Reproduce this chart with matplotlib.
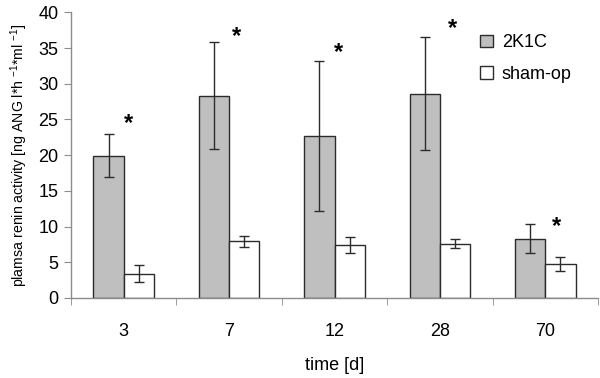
import numpy as np
import matplotlib
matplotlib.use("Agg")
import matplotlib.pyplot as plt

plt.rcParams['font.family'] = ['Liberation Sans', 'DejaVu Sans']
plt.rcParams['mathtext.fontset'] = 'custom'
plt.rcParams['mathtext.rm'] = 'Liberation Sans'
plt.rcParams['mathtext.it'] = 'Liberation Sans'

# data
days = ["3", "7", "12", "28", "70"]
k1c_mean = [19.9, 28.3, 22.7, 28.6, 8.3]
k1c_err = [3.0, 7.5, 10.5, 7.9, 2.0]
sham_mean = [3.4, 7.9, 7.4, 7.6, 4.7]
sham_err = [1.2, 0.75, 1.1, 0.65, 1.0]
star_y = [24.5, 36.7, 34.4, 37.7, 10.0]
star_dx = [0.05, 0.07, 0.04, 0.12, 0.10]

fig = plt.figure(figsize=(6, 3.78), dpi=100)
ax = fig.add_axes([0.118, 0.212, 0.879, 0.755])

x = np.arange(len(days)) + 0.5
w = 0.285
axis_col = "#8c8c8c"

ax.bar(x - w/2, k1c_mean, w, color="#bfbfbf", edgecolor="#2b2b2b", linewidth=1, label="2K1C", zorder=2)
ax.bar(x + w/2, sham_mean, w, color="white", edgecolor="#2b2b2b", linewidth=1, label="sham-op", zorder=2)
ax.errorbar(x - w/2, k1c_mean, yerr=k1c_err, fmt="none", ecolor="#2b2b2b", elinewidth=1, capsize=3.5, capthick=1, zorder=3)
ax.errorbar(x + w/2, sham_mean, yerr=sham_err, fmt="none", ecolor="#2b2b2b", elinewidth=1, capsize=3.5, capthick=1, zorder=3)

for xi, dx, sy in zip(x, star_dx, star_y):
    ax.text(xi + dx, sy, "*", ha="center", va="center", fontsize=17, fontweight="bold", zorder=4)

ax.set_xlim(0, len(days))
ax.set_ylim(0, 40)
ax.set_yticks(np.arange(0, 41, 5))
ax.set_xticks(x)
ax.set_xticklabels(days)
ax.set_xticks(np.arange(len(days) + 1), minor=True)
ax.tick_params(axis="x", which="major", length=0, pad=18, labelsize=13)
ax.tick_params(axis="x", which="minor", length=5, color=axis_col, direction="out")
ax.tick_params(axis="y", length=5, color=axis_col, labelsize=13, pad=4)

for s in ["top", "right"]:
    ax.spines[s].set_visible(False)
for s in ["left", "bottom"]:
    ax.spines[s].set_color(axis_col)
    ax.spines[s].set_linewidth(1)

ax.set_xlabel("time [d]", fontsize=13, labelpad=12)
ax.set_ylabel("plamsa renin activity [ng ANG l*h $^{-1}$*ml $^{-1}$]", fontsize=10.2, labelpad=6)

ax.legend(loc="upper left", bbox_to_anchor=(0.745, 0.98), frameon=False, fontsize=13,
          handlelength=0.7, handleheight=0.7, handletextpad=0.5, labelspacing=0.8)

fig.savefig("out.png", dpi=100)
